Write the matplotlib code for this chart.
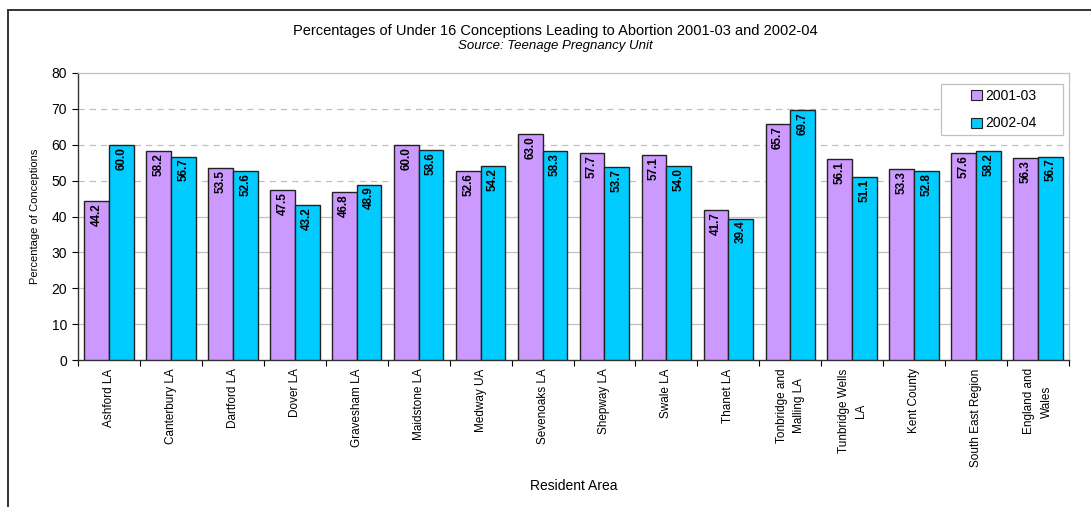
import matplotlib
matplotlib.use('Agg')
import matplotlib.pyplot as plt
from matplotlib.patches import Rectangle
import numpy as np

areas = ['Ashford LA', 'Canterbury LA', 'Dartford LA', 'Dover LA', 'Gravesham LA',
         'Maidstone LA', 'Medway UA', 'Sevenoaks LA', 'Shepway LA', 'Swale LA',
         'Thanet LA', 'Tonbridge and\nMalling LA', 'Tunbridge Wells\nLA', 'Kent County',
         'South East Region', 'England and\nWales']
pct_2001_03 = [44.2, 58.2, 53.5, 47.5, 46.8, 60.0, 52.6, 63.0, 57.7, 57.1,
               41.7, 65.7, 56.1, 53.3, 57.6, 56.3]
pct_2002_04 = [60.0, 56.7, 52.6, 43.2, 48.9, 58.6, 54.2, 58.3, 53.7, 54.0,
               39.4, 69.7, 51.1, 52.8, 58.2, 56.7]
series_labels = ['2001-03', '2002-04']
series_colors = ['#CC99FF', '#00CCFF']

plt.rcParams['font.family'] = ['Liberation Sans', 'DejaVu Sans']

fig = plt.figure(figsize=(10.91, 5.07), dpi=100)
ax = fig.add_axes([78 / 1091, 1 - 360 / 507, 991 / 1091, 287 / 507])

# outer chart frame (left and top edges visible)
fig.patches.append(Rectangle((8 / 1091, -0.1), 1.2, 1.1 - 10 / 507,
                             transform=fig.transFigure, fill=False,
                             edgecolor='#333333', linewidth=1.4))

x = np.arange(len(areas))
w = 0.4
for i, (vals, lab, col) in enumerate(zip([pct_2001_03, pct_2002_04], series_labels, series_colors)):
    pos = x + (i - 0.5) * w
    ax.bar(pos, vals, width=w, color=col, edgecolor='#222222', linewidth=1.0,
           label=lab, zorder=3)
    for px, v in zip(pos, vals):
        ax.annotate(f'{v:.1f}', (px, v), xytext=(0, -1.5), textcoords='offset points',
                    rotation=90, ha='center', va='top', fontsize=8.5,
                    fontweight='bold', zorder=4)

ax.set_xlim(-0.5, len(areas) - 0.5)
ax.set_ylim(0, 80)
ax.set_yticks(range(0, 81, 10))
ax.tick_params(axis='y', labelsize=10, length=4, width=0.8, direction='out', pad=4)

# gridlines
for g in range(10, 80, 10):
    ax.axhline(g, color='#C0C0C0', linewidth=0.9,
               linestyle=(0, (5, 4)) if g >= 50 else '-', zorder=1)

ax.set_xticks(x)
ax.set_xticklabels(areas, rotation=90, fontsize=8.5, ha='center', va='top',
                   multialignment='center', linespacing=1.6)
ax.tick_params(axis='x', length=0, pad=6)
ax.set_xticks(np.arange(-0.5, len(areas)), minor=True)
ax.tick_params(axis='x', which='minor', length=4, width=0.8)

for s in ['left', 'bottom']:
    ax.spines[s].set_color('#333333')
    ax.spines[s].set_linewidth(1.0)
for s in ['top', 'right']:
    ax.spines[s].set_color('#C0C0C0')
    ax.spines[s].set_linewidth(0.9)

ax.set_ylabel('Percentage of Conceptions', fontsize=8, labelpad=8)
ax.set_xlabel('Resident Area', fontsize=10, labelpad=0)
ax.xaxis.set_label_coords(0.5, -0.414)

fig.text(555 / 1091, 1 - 31 / 507, 'Percentages of Under 16 Conceptions Leading to Abortion 2001-03 and 2002-04',
         ha='center', va='center', fontsize=10.5)
fig.text(555 / 1091, 1 - 46 / 507, 'Source: Teenage Pregnancy Unit',
         ha='center', va='center', fontsize=9.5, style='italic')

# legend box drawn separately so it can be wider than the entries
lx0, lx1 = (941 - 78) / 991, (1063 - 78) / 991
ly0, ly1 = (360 - 135) / 287, (360 - 84) / 287
ax.add_patch(Rectangle((lx0, ly0), lx1 - lx0, ly1 - ly0, transform=ax.transAxes,
                       facecolor='white', edgecolor='#C0C0C0', linewidth=0.9, zorder=5))
leg = ax.legend(loc='center', bbox_to_anchor=((lx0 + lx1) / 2 + 0.002, (ly0 + ly1) / 2),
                fontsize=10, frameon=False,
                handlelength=0.75, handleheight=0.75, handletextpad=0.25,
                labelspacing=1.0, borderpad=0, borderaxespad=0)
leg.set_zorder(6)
for h in leg.legend_handles:
    h.set_edgecolor('#222222')
    h.set_linewidth(0.8)

fig.savefig('out.png', dpi=100)
